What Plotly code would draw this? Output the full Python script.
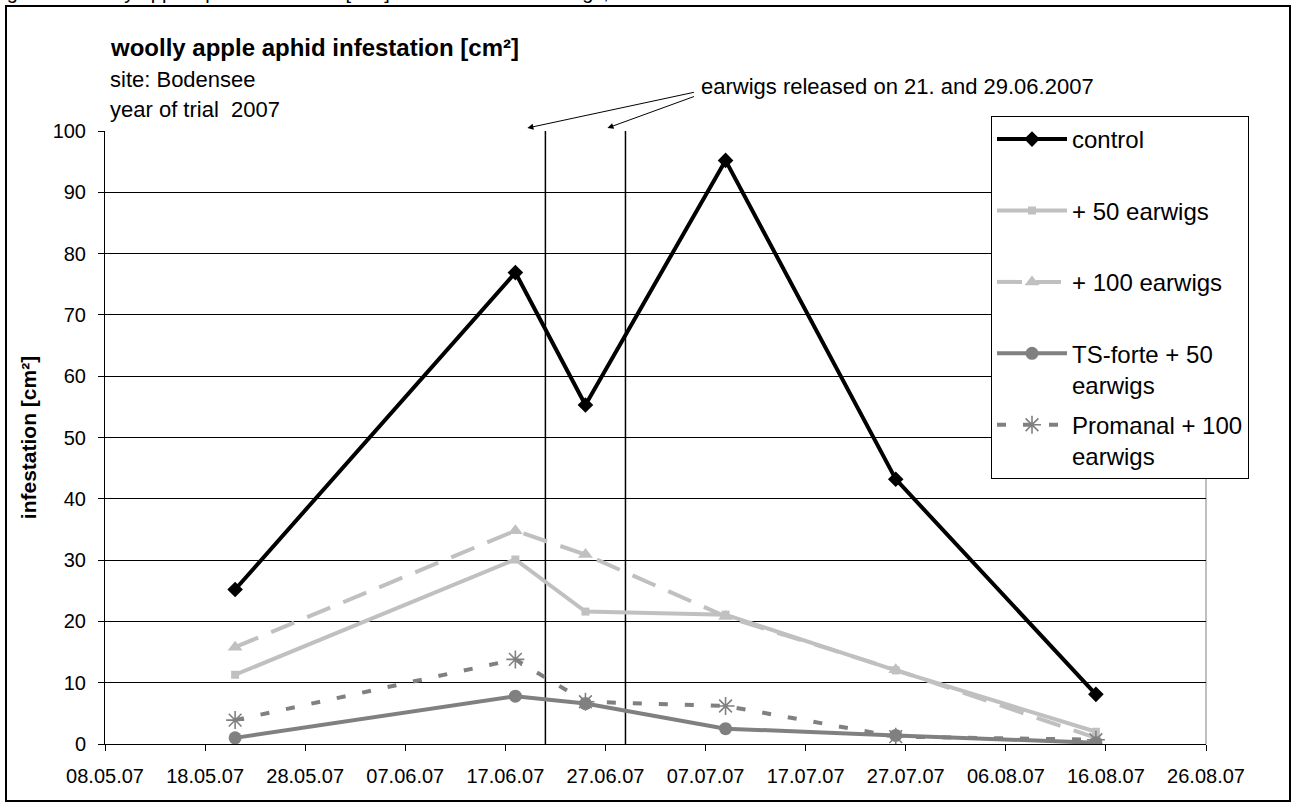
import plotly.graph_objects as go

# ---------------- data ----------------
dates = ["2007-05-21", "2007-06-18", "2007-06-25", "2007-07-09", "2007-07-26", "2007-08-15"]
control = [25.2, 76.9, 55.3, 95.2, 43.2, 8.1]
plus50 = [11.3, 30.1, 21.6, 21.1, 12.0, 2.0]
plus100 = [15.8, 34.8, 30.9, 20.8, 12.1, 1.0]
tsforte50 = [1.0, 7.8, 6.6, 2.5, 1.4, 0.2]
promanal100 = [3.9, 13.8, 6.9, 6.2, 1.2, 0.7]

series_names = ["control", "+ 50 earwigs", "+ 100 earwigs", "TS-forte + 50<br>earwigs", "Promanal + 100<br>earwigs"]
release_dates = ["2007-06-21", "2007-06-29"]
tick_dates = ["2007-05-08", "2007-05-18", "2007-05-28", "2007-06-07", "2007-06-17", "2007-06-27",
              "2007-07-07", "2007-07-17", "2007-07-27", "2007-08-06", "2007-08-16", "2007-08-26"]
tick_labels = ["08.05.07", "18.05.07", "28.05.07", "07.06.07", "17.06.07", "27.06.07",
               "07.07.07", "17.07.07", "27.07.07", "06.08.07", "16.08.07", "26.08.07"]
y_ticks = [0, 10, 20, 30, 40, 50, 60, 70, 80, 90, 100]

# ---------------- geometry ----------------
W, H = 1301, 808
ML, MR, MT, MB = 105, 95, 131, 64
PW, PH = W - ML - MR, H - MT - MB
FONT = "Liberation Sans, Arial, sans-serif"


def px(xp):
    return (xp - ML) / PW


def py(yp):
    return (H - MB - yp) / PH


fig = go.Figure()

styles = [
    dict(color="#000000", dash="solid", symbol="diamond", msize=12, mcolor="#000000"),
    dict(color="#C0C0C0", dash="solid", symbol="square", msize=8, mcolor="#C0C0C0"),
    dict(color="#C0C0C0", dash="25px,14px", symbol="triangle-up", msize=13, mcolor="#C0C0C0"),
    dict(color="#808080", dash="solid", symbol="circle", msize=13, mcolor="#808080"),
    dict(color="#808080", dash="9px,17px", symbol="asterisk-open", msize=15, mcolor="#808080"),
]
all_series = [control, plus50, plus100, tsforte50, promanal100]

for i, (name, vals, st) in enumerate(zip(series_names, all_series, styles)):
    label = name if "<br>" in name else name + "<br> "
    marker = dict(symbol=st["symbol"], size=st["msize"], color=st["mcolor"])
    if st["symbol"] == "asterisk-open":
        marker["line"] = dict(color=st["mcolor"], width=1.6)
    fig.add_trace(go.Scatter(
        x=dates, y=vals, name=label, mode="lines+markers",
        line=dict(color=st["color"], width=4, dash=st["dash"]),
        marker=marker, legendgroup=f"g{i}",
    ))

# release lines
for d in release_dates:
    fig.add_shape(type="line", xref="x", yref="y", x0=d, x1=d, y0=0, y1=100,
                  line=dict(color="#000000", width=1.5), layer="below")

# plot area right border
fig.add_shape(type="line", xref="paper", yref="paper", x0=1, x1=1, y0=0, y1=1,
              line=dict(color="#808080", width=1), layer="below")

# outer frame
fig.add_shape(type="rect", xref="paper", yref="paper",
              x0=px(6), x1=px(1290), y0=py(801), y1=py(6),
              line=dict(color="#000000", width=2))

annotations = []
# cut-off caption at very top (only its lowest part is visible, as in the source)
annotations.append(dict(xref="paper", yref="paper", x=px(-12), y=py(5), xanchor="left", yanchor="bottom",
                        text="Figure 3: Woolly apple aphid infestation [cm²] after release of earwigs, Bodensee 2007",
                        showarrow=False, font=dict(family=FONT, size=20, color="#000")))
annotations.append(dict(xref="paper", yref="paper", x=px(108), y=py(47), xanchor="left", yanchor="middle",
                        text="<b>woolly apple aphid infestation [cm²]</b>", showarrow=False,
                        font=dict(family=FONT, size=24, color="#000")))
annotations.append(dict(xref="paper", yref="paper", x=px(108), y=py(80), xanchor="left", yanchor="middle",
                        text="site: Bodensee", showarrow=False, font=dict(family=FONT, size=22, color="#000")))
annotations.append(dict(xref="paper", yref="paper", x=px(108), y=py(110), xanchor="left", yanchor="middle",
                        text="year of trial  2007", showarrow=False, font=dict(family=FONT, size=22, color="#000")))
annotations.append(dict(xref="paper", yref="paper", x=px(699), y=py(86), xanchor="left", yanchor="middle",
                        text="earwigs released on 21. and 29.06.2007", showarrow=False,
                        font=dict(family=FONT, size=22, color="#000")))
# arrows
for d, ax, ay in zip(release_dates, [168, 88], [-36, -32]):
    annotations.append(dict(xref="x", yref="y", x=d, y=100, xshift=-18, yshift=3, text="",
                            showarrow=True, ax=ax, ay=ay, arrowhead=2, arrowsize=1.2, arrowwidth=1,
                            arrowcolor="#000"))

fig.update_layout(
    width=W, height=H,
    margin=dict(l=ML, r=MR, t=MT, b=MB),
    paper_bgcolor="white", plot_bgcolor="white",
    font=dict(family=FONT, size=20, color="#000"),
    showlegend=True,
    legend=dict(x=px(991), y=py(116), xanchor="left", yanchor="top",
                bordercolor="#000", borderwidth=1, bgcolor="white",
                font=dict(family=FONT, size=24, color="#000"),
                itemwidth=70, valign="top", tracegroupgap=6, traceorder="grouped",
                itemclick=False),
    annotations=annotations,
    xaxis=dict(type="date", range=["2007-05-08", "2007-08-26"], tickmode="array",
               tickvals=tick_dates, ticktext=tick_labels, ticks="outside", ticklen=6,
               tickcolor="#000", showline=True, linecolor="#000", linewidth=1,
               showgrid=False, zeroline=False, tickfont=dict(family=FONT, size=20, color="#000"),
               ticklabelstandoff=8),
    yaxis=dict(range=[0, 100], tickmode="array", tickvals=y_ticks, ticks="outside", ticklen=6,
               tickcolor="#000", showline=True, linecolor="#000", linewidth=1,
               showgrid=True, gridcolor="#000", gridwidth=1, zeroline=False,
               tickfont=dict(family=FONT, size=20, color="#000"), ticklabelstandoff=8,
               title=dict(text="<b>infestation [cm²]</b>", standoff=10,
                          font=dict(family=FONT, size=21, color="#000"))),
)

fig.write_html("out.html", post_script="document.body.style.margin='0';",
               config={"displayModeBar": False})
